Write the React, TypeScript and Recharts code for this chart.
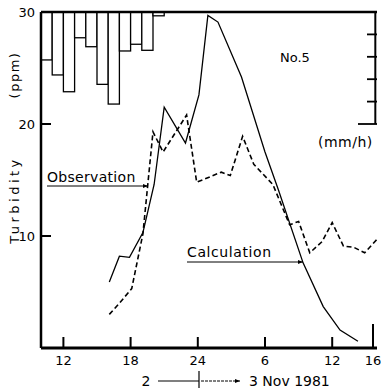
import React from 'react';
import {Bar, ComposedChart, Line, ReferenceLine, XAxis, YAxis} from 'recharts';

// rainfall (mm/h), one bar per hour starting at the given hour of 2 Nov
const rainHours = [10, 11, 12, 13, 14, 15, 16, 17, 18, 19, 20];
const rainfall = [2.14, 2.81, 3.56, 1.15, 1.55, 3.23, 4.11, 1.74, 1.44, 1.71, 0.17];

// hours counted from 0:00 of 2 Nov (24 = midnight, 40 = 16h on 3 Nov)
const calcHours = [16.1, 17.0, 17.9, 19.1, 20.1, 21.0, 22.9, 24.1, 24.9, 25.8, 27.9, 30.0, 31.2, 33.4, 35.2, 36.7, 38.3];
const calcTurbidity = [5.9, 8.2, 8.1, 10.3, 14.6, 21.5, 18.3, 22.6, 29.7, 29.1, 24.2, 17.5, 14.1, 7.6, 3.7, 1.6, 0.6];

const obsHours = [16.1, 17.0, 18.1, 19.1, 20.0, 20.9, 23.0, 23.9, 26.1, 26.9, 28.0, 29.0, 30.7, 32.2, 33.0, 34.0, 35.1, 36.0, 37.0, 37.9, 38.9, 40.0];
const obsTurbidity = [3.0, 4.0, 5.3, 10.2, 19.3, 17.5, 20.8, 14.8, 15.7, 15.4, 18.9, 16.4, 14.6, 11.0, 11.3, 8.5, 9.5, 11.2, 9.1, 9.0, 8.5, 9.7];

const timeTicks = [12, 18, 24, 30, 36, 40];
const turbTicks = [10, 20, 30];
const rainTicks = [0, 1, 2, 3, 4, 5];

const rainData = rainHours.map((h, i) => ({x: h + 0.5, rain: rainfall[i]}));
const calcData = calcHours.map((h, i) => ({x: h, t: calcTurbidity[i]}));
const obsData = obsHours.map((h, i) => ({x: h, t: obsTurbidity[i]}));

const font = 'DejaVu Sans, sans-serif';
const HOUR_PX = 11.2;

const TurbTick = ({x, y, payload}) => (
  <g>
    <line x1={x + 6} x2={x + 16} y1={y} y2={y} stroke="#000" strokeWidth={2}/>
    <text x={x} y={y} dy="0.35em" textAnchor="end" fontFamily={font} fontSize={13} fill="#000">{payload.value}</text>
  </g>
);

// right-hand rain axis: inward ticks, no labels
const RainTick = ({x, y, payload}) => {
  if (payload.value === 0) return null;
  const len = payload.value === 5 ? 19 : 10;
  return <line x1={x - len} x2={x} y1={y} y2={y} stroke="#000" strokeWidth={1.8}/>;
};

const TimeTick = ({x, y, payload}) => {
  const h = payload.value % 24 === 0 ? 24 : payload.value % 24;
  const len = payload.value === 40 ? 24 : 11;
  return (
    <g>
      <line x1={x} x2={x} y1={y - 8} y2={y - 8 - len} stroke="#000" strokeWidth={2}/>
      <text x={x} y={y + 9} textAnchor="middle" fontFamily={font} fontSize={13} fill="#000">{h}</text>
    </g>
  );
};

const RainBar = ({x, y, width, height}) => {
  const top = Math.min(y, y + height);
  const h = Math.abs(height);
  return <rect x={x + width / 2 - HOUR_PX / 2} y={top} width={HOUR_PX} height={h} fill="#fff" stroke="#000" strokeWidth={1.3}/>;
};

export default function App() {
  return (
    <div style={{position: 'absolute', left: 0, top: 0, width: 381, height: 388, background: '#fff'}}>
      <ComposedChart width={381} height={388} data={rainData} margin={{top: 12, right: 3, bottom: 0, left: 0}}>
        <XAxis dataKey="x" type="number" domain={[10, 40]} allowDataOverflow ticks={timeTicks} height={40}
               tickSize={0} tickMargin={8} tick={TimeTick} axisLine={{stroke: '#000', strokeWidth: 3}}/>
        <YAxis yAxisId="t" domain={[0, 30]} ticks={turbTicks} width={41} tickSize={0} tickMargin={6}
               tick={TurbTick} axisLine={{stroke: '#000', strokeWidth: 2.5}}/>
        <YAxis yAxisId="rain" orientation="right" domain={[0, 15]} reversed ticks={rainTicks} width={1}
               interval={0} tickSize={0} tickMargin={0} tick={RainTick} axisLine={false}/>
        <ReferenceLine yAxisId="t" y={30} stroke="#000" strokeWidth={2.5}/>
        <ReferenceLine yAxisId="rain" ifOverflow="visible" segment={[{x: 39.85, y: 0}, {x: 39.85, y: 5}]}
                       stroke="#000" strokeWidth={2}/>
        <Bar yAxisId="rain" dataKey="rain" shape={RainBar} isAnimationActive={false}/>
        <Line yAxisId="t" data={obsData} dataKey="t" type="linear" dot={false} stroke="#000" strokeWidth={1.6}
              strokeDasharray="5 3" isAnimationActive={false}/>
        <Line yAxisId="t" data={calcData} dataKey="t" type="linear" dot={false} stroke="#000" strokeWidth={1.3}
              isAnimationActive={false}/>
      </ComposedChart>
      <svg width={381} height={388} style={{position: 'absolute', left: 0, top: 0, pointerEvents: 'none'}}
           fontFamily={font} fontSize={14}>
        <defs>
          <marker id="ah" viewBox="0 0 10 10" refX="10" refY="5" markerWidth="7" markerHeight="5" orient="auto">
            <path d="M0,1 L10,5 L0,9 z" fill="#000"/>
          </marker>
        </defs>
        <text transform="translate(19,200) rotate(-90)" textAnchor="middle" fontSize={13} letterSpacing={3.5}>Turbidity</text>
        <text transform="translate(19,75) rotate(-90)" textAnchor="middle" fontSize={13} letterSpacing={1.5}>(ppm)</text>
        <text x={280} y={62} fontSize={13}>No.5</text>
        <text x={318} y={147} letterSpacing={0.5}>(mm/h)</text>
        <text x={47} y={182} letterSpacing={0.3}>Observation</text>
        <line x1={47} x2={148} y1={186} y2={186} stroke="#000" strokeWidth={1} markerEnd="url(#ah)"/>
        <text x={187} y={257} letterSpacing={0.6}>Calculation</text>
        <line x1={187} x2={303} y1={262} y2={262} stroke="#000" strokeWidth={1} markerEnd="url(#ah)"/>
        <text x={146} y={386} textAnchor="middle">2</text>
        <line x1={158} x2={199} y1={381} y2={381} stroke="#000" strokeWidth={1.2}/>
        <line x1={199} x2={199} y1={371} y2={388} stroke="#000" strokeWidth={1.2}/>
        <line x1={201} x2={240} y1={381} y2={381} stroke="#000" strokeWidth={1} strokeDasharray="3 1" markerEnd="url(#ah)"/>
        <text x={249} y={386}>3 Nov 1981</text>
      </svg>
    </div>
  );
}
